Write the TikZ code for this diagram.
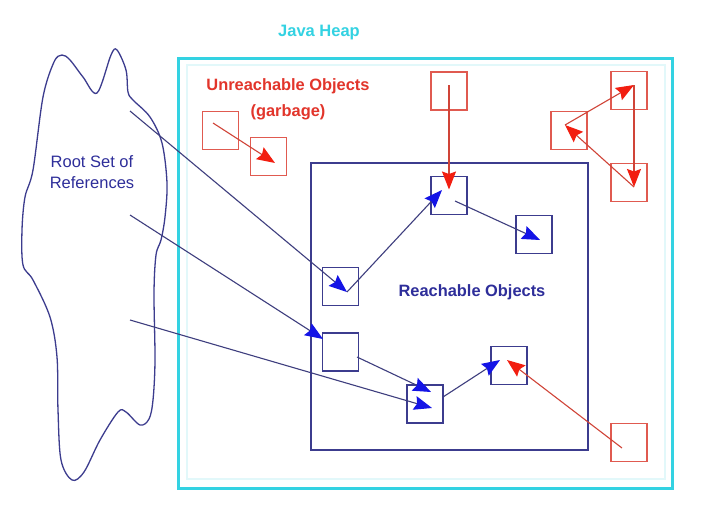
\documentclass[tikz,border=0pt]{standalone}
\usepackage{fontspec}
\setmainfont{Liberation Sans}
\usetikzlibrary{arrows.meta,calc}
\definecolor{heapcyan}{HTML}{33D2E2}
\definecolor{heapfaint}{HTML}{E2F8FA}
\definecolor{garbred}{HTML}{E2352B}
\definecolor{redbox}{HTML}{E05A50}
\definecolor{redline}{HTML}{D04438}
\definecolor{redhead}{HTML}{F21E10}
\definecolor{navybox}{HTML}{3C3C8E}
\definecolor{navyline}{HTML}{3E3E7E}
\definecolor{bluehead}{HTML}{1414E6}
\definecolor{navytext}{HTML}{2E2E9A}
\begin{document}
\begin{tikzpicture}[x=1pt,y=-1pt,
  rbox/.style={draw=redbox, line width=1.3pt, minimum width=36pt, minimum height=38pt, inner sep=0pt},
  bbox/.style={draw=navybox, line width=1.3pt, minimum width=36pt, minimum height=38pt, inner sep=0pt},
  barrow/.style={draw=navyline, line width=1.1pt, -{Stealth[length=18pt,width=14pt,inset=2.5pt,color=bluehead]}},
  rarrow/.style={draw=redline, line width=1.1pt, -{Stealth[length=18pt,width=14pt,inset=2.5pt,color=redhead]}},
  lbl/.style={font=\fontsize{16.4}{19}\selectfont\bfseries, inner sep=0pt}
]
\useasboundingbox (0,0) rectangle (717,517);
\fill[white] (0,0) rectangle (717,517);

% Java heap frame
\draw[heapfaint, line width=2pt] (187,65) rectangle (665,479);
\draw[heapcyan, line width=3pt] (178,58) rectangle (672,488);
\node[lbl, text=heapcyan, font=\fontsize{16.5}{18}\selectfont\bfseries] (heap) at (319,33) {Java Heap};

% reachable region
\draw[navybox, line width=1.4pt] (311,163) rectangle (588,450);
\node[lbl, text=navytext] (reach) at (472,292) {Reachable Objects};

% garbage label
\node[lbl, text=garbred, align=center, font=\fontsize{16.4}{26}\selectfont\bfseries] (garb) at (288,99) {Unreachable Objects\\(garbage)};

% root set cloud
\draw[navybox, line width=1.3pt] plot[smooth cycle, tension=0.55] coordinates {
 (62,55) (54,62) (43,97) (33,170) (25,197) (22,230) (23,265) (33,280) (50,317)
 (57,357) (58,410) (61,460) (72,480) (84,472) (100,440) (118,412) (126,412)
 (140,425) (149,419) (153,400) (155,360) (154,293) (156,255) (161,240)
 (165,217) (167,183) (162,143) (150,117) (133,100) (128,92) (126,70)
 (117,50) (111,55) (97,93) (83,77) (70,60)};
\node[text=navytext, align=center, inner sep=0pt, font=\fontsize{16.5}{21}\selectfont] (root) at (92,172) {Root Set of\\References};
\coordinate (r1) at (130,111);
\coordinate (r2) at (130,215);
\coordinate (r3) at (130,320);

% red (unreachable) boxes
\node[rbox] (R1) at (220.5,130.5) {};
\node[rbox] (R2) at (268.5,156.5) {};
\node[rbox] (R3) at (449,91) {};
\node[rbox] (R4) at (629,90.5) {};
\node[rbox] (R5) at (569,130.5) {};
\node[rbox] (R6) at (629,182.5) {};
\node[rbox] (R7) at (629,442.5) {};

% blue (reachable) boxes
\node[bbox] (B1) at (449,195.5) {};
\node[bbox] (B2) at (534,234.5) {};
\node[bbox] (B3) at (340.5,286.5) {};
\node[bbox] (B4) at (340.5,352) {};
\node[bbox] (B5) at (425,404) {};
\node[bbox] (B6) at (509,365.5) {};

% red arrows
\draw[rarrow] ($(R1)+(-7.5,-7.5)$) -- ($(R2)+(6.5,6.5)$);
\draw[rarrow] ($(R3)+(0,-6)$) -- ($(B1)+(0,-6)$);
\draw[rarrow] ($(R5)+(-4,-5.5)$) -- ($(R4)+(5,-5.5)$);
\draw[rarrow] ($(R4)+(5,-5.5)$) -- ($(R6)+(5,4.5)$);
\draw[rarrow] ($(R6)+(5,4.5)$) -- ($(R5)+(-4,-5.5)$);
\draw[rarrow] ($(R7)+(-7,5.5)$) -- ($(B6)+(-2,-5.5)$);

% blue arrows
\draw[barrow] (r1) -- ($(B3)+(6.5,5.5)$);
\draw[barrow] ($(B3)+(6.5,5.5)$) -- ($(B1)+(-7,-5.5)$);
\draw[barrow] ($(B1)+(6,5.5)$) -- ($(B2)+(6,5.5)$);
\draw[barrow] (r2) -- ($(B4)+(-17.5,-13)$);
\draw[barrow] ($(B4)+(16.5,5)$) -- ($(B5)+(6,-12)$);
\draw[barrow] (r3) -- ($(B5)+(7,4)$);
\draw[barrow] ($(B5)+(18,-7)$) -- ($(B6)+(-9,-5.5)$);
\end{tikzpicture}
\end{document}
